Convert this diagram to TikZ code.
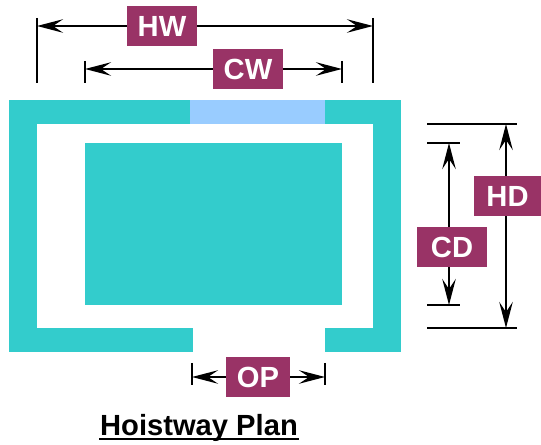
\documentclass[tikz,border=0pt]{standalone}
\usepackage{fontspec}
\setmainfont{Liberation Sans}
\usetikzlibrary{arrows.meta}
\definecolor{wallteal}{HTML}{33CCCC}
\definecolor{doorblue}{HTML}{99CCFF}
\definecolor{tagplum}{HTML}{993366}
\tikzset{
    dimline/.style={line width=.85pt, {Stealth[length=.52cm, width=.27cm, inset=.2cm]}-{Stealth[length=.52cm, width=.27cm, inset=.2cm]}},
    tickline/.style={line width=.65pt},
    dimtag/.style={fill=tagplum, text=white, font=\fontsize{16.6}{20}\selectfont\bfseries, inner sep=0, minimum height=.8cm, minimum width=1.4cm},
}
\begin{document}
\begin{tikzpicture}[x=.02cm, y=-.02cm]
        \useasboundingbox (0, 0) rectangle (541, 445);

        % hoistway walls
        \fill[wallteal] (9, 100) rectangle (401, 124);
        \fill[wallteal] (9, 100) rectangle (37, 352);
        \fill[wallteal] (373, 100) rectangle (401, 352);
        \fill[wallteal] (9, 328) rectangle (193, 352);
        \fill[wallteal] (325, 328) rectangle (401, 352);
        \fill[doorblue] (190, 100) rectangle (325, 124);
        % car
        \fill[wallteal] (85, 143) rectangle (342, 305);

        \coordinate (hwa) at (37, 18);
        \coordinate (hwb) at (37, 83);
        \coordinate (hwc) at (373, 18);
        \coordinate (hwd) at (373, 83);
        \coordinate (hwl) at (37, 26);
        \coordinate (hwr) at (373, 26);
        \draw[tickline] (hwa) to (hwb);
        \draw[tickline] (hwc) to (hwd);
        \draw[dimline] (hwl) -- (hwr);

        \coordinate (cwa) at (85, 61);
        \coordinate (cwb) at (85, 83);
        \coordinate (cwc) at (342, 61);
        \coordinate (cwd) at (342, 83);
        \coordinate (cwl) at (85, 69);
        \coordinate (cwr) at (342, 69);
        \draw[tickline] (cwa) to (cwb);
        \draw[tickline] (cwc) to (cwd);
        \draw[dimline] (cwl) -- (cwr);

        \coordinate (hda) at (427, 124);
        \coordinate (hdb) at (517, 124);
        \coordinate (hdc) at (427, 328);
        \coordinate (hdd) at (517, 328);
        \coordinate (hdt) at (506, 124);
        \coordinate (hdf) at (506, 328);
        \draw[tickline] (hda) to (hdb);
        \draw[tickline] (hdc) to (hdd);
        \draw[dimline] (hdt) -- (hdf);

        \coordinate (cda) at (427, 143);
        \coordinate (cdb) at (460, 143);
        \coordinate (cdc) at (427, 305);
        \coordinate (cdd) at (460, 305);
        \coordinate (cdt) at (449, 143);
        \coordinate (cdf) at (449, 305);
        \draw[tickline] (cda) to (cdb);
        \draw[tickline] (cdc) to (cdd);
        \draw[dimline] (cdt) -- (cdf);

        \coordinate (opa) at (192, 363);
        \coordinate (opb) at (192, 385);
        \coordinate (opc) at (325, 363);
        \coordinate (opd) at (325, 385);
        \coordinate (opl) at (192, 377);
        \coordinate (opr) at (325, 377);
        \draw[tickline] (opa) to (opb);
        \draw[tickline] (opc) to (opd);
        \draw[dimline] (opl) -- (opr);

        \node[dimtag] (hw) at (162, 26){HW};
        \node[dimtag] (cw) at (248, 69){CW};
        \node[dimtag, minimum width=1.34cm] (hd) at (507.5, 196){HD};
        \node[dimtag] (cd) at (452, 247){CD};
        \node[dimtag, minimum width=1.28cm] (op) at (258, 377){OP};

        \node[font=\fontsize{16.6}{20}\selectfont\bfseries, inner sep=0] (title) at (199, 428){Hoistway Plan};
        \coordinate (ula) at (99, 439);
        \coordinate (ulb) at (299, 439);
        \draw[line width=1.7pt] (ula) -- (ulb);
\end{tikzpicture}
\end{document}
